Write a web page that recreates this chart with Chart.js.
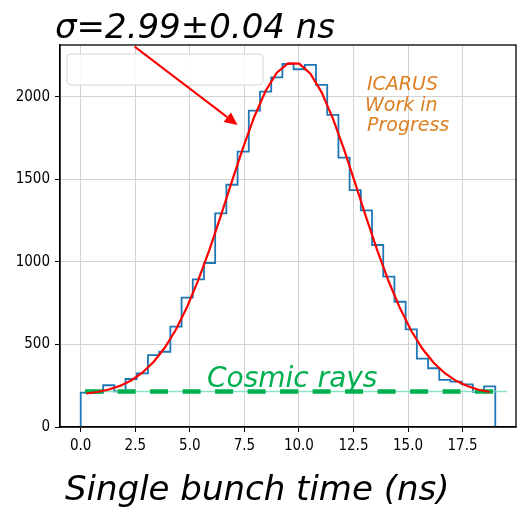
<!DOCTYPE html>
<html>
<head>
<meta charset="utf-8">
<script src="https://cdn.jsdelivr.net/npm/chart.js@4.4.0/dist/chart.umd.min.js"></script>
<style>
  html, body { margin: 0; padding: 0; background: #fff; }
  #wrap { width: 521px; height: 512px; }
</style>
</head>
<body>
<div id="wrap"><canvas id="myChart" width="521" height="512"></canvas></div>
<script>
// single bunch time histogram: 37 bins between 0 and 19 ns
const binLow = 0;
const binHigh = 19;
const binCounts = [208, 208, 253, 216, 291, 325, 436, 456, 608, 784,
                   895, 994, 1295, 1468, 1669, 1917, 2032, 2119, 2200, 2168,
                   2194, 2073, 1891, 1632, 1436, 1313, 1103, 911, 759, 592,
                   414, 356, 285, 275, 258, 213, 246];
// gaussian fit read at the bin centres
const fitValues = [203, 212, 227, 249, 282, 329, 394, 480, 591, 729,
                   892, 1077, 1280, 1490, 1695, 1882, 2036, 2147, 2204, 2202,
                   2141, 2028, 1870, 1682, 1476, 1266, 1065, 880, 719, 583,
                   474, 389, 326, 280, 248, 226, 212];
// cosmic ray flat level
const cosmicX = [0.2, 18.96];
const cosmicLineX = [0.2, 19.55];
const cosmicY = [215, 215];
const xTicks = [0, 2.5, 5, 7.5, 10, 12.5, 15, 17.5];
const yTicks = [0, 500, 1000, 1500, 2000];
// arrow from the sigma label to the curve
const arrowFrom = [2.47, 2305];
const arrowTo = [7.19, 1830];

function drawBunchChart() {
    const binWidth = (binHigh - binLow) / binCounts.length;

    const histPoints = [{x: binLow, y: 0}];
    binCounts.forEach((c, i) => histPoints.push({x: binLow + i * binWidth, y: c}));
    histPoints.push({x: binHigh, y: 0});

    const fitPoints = fitValues.map((v, i) => ({x: binLow + (i + 0.5) * binWidth, y: v}));
    const cosmicDash = cosmicX.map((v, i) => ({x: v, y: cosmicY[i]}));
    const cosmicLine = cosmicLineX.map((v, i) => ({x: v, y: cosmicY[i]}));

    const tickFont = { family: "'DejaVu Sans Condensed', 'DejaVu Sans'", size: 15 };
    const comic = "'DejaVu Sans'";

    const overlay = {
        id: 'overlay',
        afterDatasetsDraw(chart) {
            const {ctx, chartArea: a, scales: {x, y}} = chart;
            ctx.save();

            // top / right spines
            ctx.strokeStyle = '#000';
            ctx.lineWidth = 1.3;
            ctx.strokeRect(a.left, a.top, a.right - a.left, a.bottom - a.top);

            // empty legend frame
            ctx.beginPath();
            ctx.roundRect(a.left + 7, a.top + 9, 196, 31, 4);
            ctx.fillStyle = 'rgba(255,255,255,0.85)';
            ctx.fill();
            ctx.strokeStyle = '#d6d6d6';
            ctx.lineWidth = 1;
            ctx.stroke();

            // arrow
            const x0 = x.getPixelForValue(arrowFrom[0]), y0 = y.getPixelForValue(arrowFrom[1]);
            const x1 = x.getPixelForValue(arrowTo[0]), y1 = y.getPixelForValue(arrowTo[1]);
            const ang = Math.atan2(y1 - y0, x1 - x0);
            const headL = 13, headW = 6;
            const bx = x1 - headL * Math.cos(ang), by = y1 - headL * Math.sin(ang);
            ctx.strokeStyle = 'red';
            ctx.fillStyle = 'red';
            ctx.lineWidth = 2;
            ctx.beginPath();
            ctx.moveTo(x0, y0);
            ctx.lineTo(bx, by);
            ctx.stroke();
            ctx.beginPath();
            ctx.moveTo(x1, y1);
            ctx.lineTo(bx + headW * Math.sin(ang), by - headW * Math.cos(ang));
            ctx.lineTo(bx - headW * Math.sin(ang), by + headW * Math.cos(ang));
            ctx.closePath();
            ctx.fill();

            ctx.textBaseline = 'alphabetic';
            ctx.textAlign = 'left';

            ctx.fillStyle = '#000';
            ctx.font = 'italic 34px ' + comic;
            ctx.fillText('\u03c3=2.99\u00b10.04 ns', 55, 38);

            ctx.font = 'italic 34px ' + comic;
            ctx.fillText('Single bunch time (ns)', 65, 500);

            ctx.fillStyle = '#dd7f22';
            ctx.font = 'italic 19px ' + comic;
            ctx.fillText('ICARUS', 367, 89.5);
            ctx.fillText('Work in', 365, 110.5);
            ctx.fillText('Progress', 367, 130.5);

            ctx.fillStyle = '#00b050';
            ctx.font = 'italic 28px ' + comic;
            ctx.fillText('Cosmic rays', 207, 387);

            ctx.restore();
        }
    };

    const data = {
        datasets: [
            {
                label: 'hist',
                data: histPoints,
                stepped: true,
                borderColor: '#1f77b4',
                borderWidth: 1.8,
                pointRadius: 0,
                fill: false,
                order: 4
            },
            {
                label: 'cosmic line',
                data: cosmicLine,
                borderColor: 'rgba(110,220,180,0.8)',
                borderWidth: 1.5,
                pointRadius: 0,
                order: 3
            },
            {
                label: 'cosmic',
                data: cosmicDash,
                borderColor: '#00b050',
                borderWidth: 4.5,
                borderDash: [18, 14.5],
                pointRadius: 0,
                order: 2
            },
            {
                label: 'fit',
                data: fitPoints,
                borderColor: 'red',
                borderWidth: 2.2,
                pointRadius: 0,
                tension: 0,
                order: 1
            }
        ]
    };

    const options = {
        responsive: false,
        animation: false,
        devicePixelRatio: 1,
        layout: { padding: { top: 45, right: 5, left: 0, bottom: 0 } },
        plugins: {
            legend: { display: false },
            tooltip: { enabled: false }
        },
        scales: {
            x: {
                type: 'linear',
                min: -0.95,
                max: 19.95,
                afterBuildTicks: s => { s.ticks = xTicks.map(v => ({value: v})); },
                afterFit: s => { s.height = 85; },
                ticks: {
                    callback: v => v.toFixed(1),
                    font: tickFont,
                    color: '#000',
                    padding: 5,
                    maxRotation: 0,
                    autoSkip: false
                },
                grid: { color: '#d3d3d3', lineWidth: 1, tickColor: '#000', tickLength: 5 },
                border: { color: '#000', width: 1.3 }
            },
            y: {
                type: 'linear',
                min: 0,
                max: 2315,
                afterBuildTicks: s => { s.ticks = yTicks.map(v => ({value: v})); },
                afterFit: s => { s.width = 60; },
                ticks: {
                    callback: v => String(v),
                    font: tickFont,
                    color: '#000',
                    padding: 5
                },
                grid: { color: '#d3d3d3', lineWidth: 1, tickColor: '#000', tickLength: 5 },
                border: { color: '#000', width: 1.3 }
            }
        }
    };

    const config = {
        type: 'line',
        data: data,
        options: options,
        plugins: [overlay]
    };

    const myChart = new Chart(document.getElementById('myChart'), config);
}

drawBunchChart();
</script>
</body>
</html>
